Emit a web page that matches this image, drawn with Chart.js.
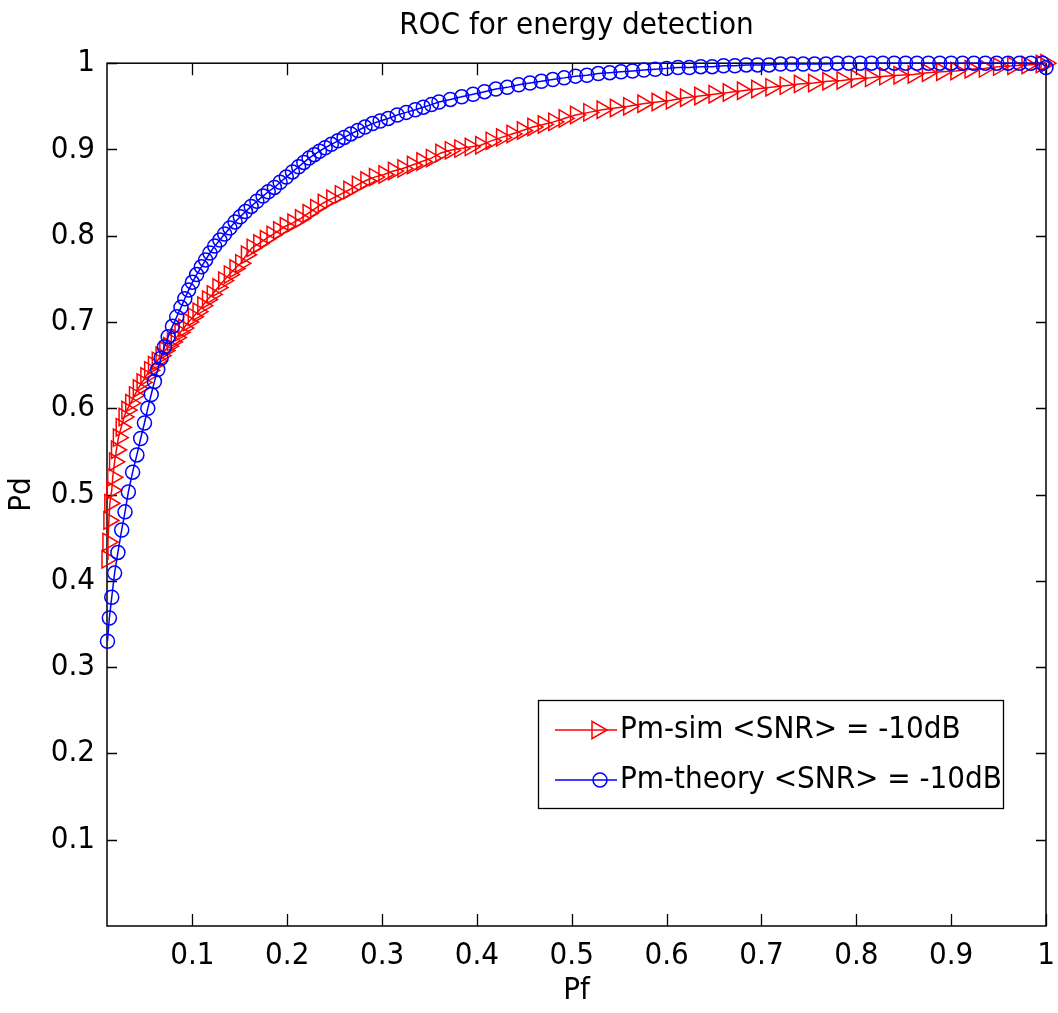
<!DOCTYPE html>
<html>
<head>
<meta charset="utf-8">
<script src="https://cdn.jsdelivr.net/npm/chart.js@4.4.1/dist/chart.umd.min.js"></script>
<style>
    html, body { margin: 0; padding: 0; background: #ffffff; }
    #wrap { width: 1058px; height: 1013px; position: relative; }
</style>
</head>
<body>
<div id="wrap"><canvas id="rocChart" width="1058" height="1013"></canvas></div>
<script>
// ---- data ----
const simPf = [
    0.010, 0.011, 0.012, 0.013, 0.015, 0.016, 0.018, 0.020, 0.022, 0.025,
    0.028, 0.031, 0.035, 0.039, 0.043, 0.047, 0.051, 0.055, 0.059, 0.063,
    0.067, 0.071, 0.075, 0.079, 0.083, 0.087, 0.091, 0.096, 0.101, 0.106,
    0.111, 0.116, 0.121, 0.127, 0.133, 0.139, 0.145, 0.151, 0.157, 0.163,
    0.170, 0.177, 0.184, 0.191, 0.198, 0.206, 0.214, 0.222, 0.230, 0.238,
    0.247, 0.256, 0.265, 0.274, 0.283, 0.292, 0.302, 0.312, 0.322, 0.332,
    0.342, 0.352, 0.362, 0.372, 0.382, 0.393, 0.404, 0.415, 0.426, 0.437,
    0.448, 0.459, 0.470, 0.481, 0.492, 0.504, 0.518, 0.532, 0.546, 0.560,
    0.575, 0.590, 0.605, 0.620, 0.635, 0.650, 0.665, 0.680, 0.695, 0.710,
    0.725, 0.740, 0.755, 0.770, 0.785, 0.800, 0.815, 0.830, 0.845, 0.860,
    0.875, 0.890, 0.905, 0.920, 0.935, 0.950, 0.965, 0.980, 0.995, 1.000
];
const simPd = [
    0.425, 0.445, 0.470, 0.490, 0.505, 0.520, 0.538, 0.552, 0.566, 0.578,
    0.590, 0.598, 0.606, 0.615, 0.623, 0.630, 0.637, 0.644, 0.650, 0.655,
    0.661, 0.667, 0.672, 0.677, 0.682, 0.688, 0.693, 0.700, 0.706, 0.712,
    0.719, 0.726, 0.732, 0.740, 0.748, 0.755, 0.762, 0.768, 0.778, 0.786,
    0.791, 0.796, 0.801, 0.806, 0.811, 0.815, 0.820, 0.826, 0.832, 0.838,
    0.843, 0.848, 0.853, 0.859, 0.864, 0.868, 0.871, 0.875, 0.878, 0.882,
    0.886, 0.890, 0.896, 0.899, 0.901, 0.903, 0.905, 0.910, 0.914, 0.918,
    0.922, 0.926, 0.929, 0.932, 0.936, 0.940, 0.943, 0.946, 0.948, 0.950,
    0.953, 0.955, 0.957, 0.960, 0.962, 0.964, 0.966, 0.968, 0.970, 0.972,
    0.974, 0.976, 0.977, 0.979, 0.980, 0.982, 0.983, 0.985, 0.986, 0.987,
    0.989, 0.990, 0.991, 0.993, 0.994, 0.996, 0.997, 0.998, 0.999, 1.000
];

const theoryPf = [
    0.0105, 0.0125, 0.0150, 0.0180, 0.0215, 0.0255, 0.0290, 0.0325, 0.0370, 0.0415,
    0.0455, 0.0495, 0.0530, 0.0566, 0.0600, 0.0635, 0.0670, 0.0705, 0.0745, 0.0790,
    0.0835, 0.0880, 0.0920, 0.0960, 0.1000, 0.1045, 0.1095, 0.1140, 0.1185, 0.1235,
    0.1290, 0.1340, 0.1395, 0.1450, 0.1505, 0.1560, 0.1620, 0.1680, 0.1745, 0.1800,
    0.1865, 0.1925, 0.1990, 0.2055, 0.2120, 0.2175, 0.2230, 0.2285, 0.2340, 0.2400,
    0.2465, 0.2535, 0.2600, 0.2670, 0.2745, 0.2820, 0.2900, 0.2980, 0.3065, 0.3160,
    0.3255, 0.3350, 0.3435, 0.3520, 0.3600, 0.372, 0.384, 0.396, 0.408, 0.420,
    0.432, 0.444, 0.456, 0.468, 0.480, 0.492, 0.504, 0.516, 0.528, 0.540,
    0.552, 0.564, 0.576, 0.588, 0.600, 0.612, 0.624, 0.636, 0.648, 0.660,
    0.672, 0.684, 0.696, 0.708, 0.720, 0.732, 0.744, 0.756, 0.768, 0.780,
    0.792, 0.804, 0.816, 0.828, 0.840, 0.852, 0.864, 0.876, 0.888, 0.900,
    0.912, 0.924, 0.936, 0.948, 0.960, 0.972, 0.984, 0.996, 1.000
];
const theoryPd = [
    0.330, 0.357, 0.381, 0.409, 0.433, 0.459, 0.480, 0.503, 0.526, 0.546,
    0.565, 0.583, 0.600, 0.616, 0.631, 0.645, 0.658, 0.671, 0.683, 0.695,
    0.706, 0.717, 0.727, 0.737, 0.746, 0.755, 0.764, 0.772, 0.780, 0.788,
    0.795, 0.802, 0.809, 0.816, 0.822, 0.828, 0.834, 0.840, 0.846, 0.851,
    0.856, 0.862, 0.868, 0.874, 0.880, 0.885, 0.890, 0.894, 0.898, 0.902,
    0.906, 0.910, 0.914, 0.918, 0.922, 0.926, 0.930, 0.933, 0.936, 0.940,
    0.943, 0.946, 0.949, 0.952, 0.955, 0.958, 0.961, 0.964, 0.967, 0.970,
    0.972, 0.975, 0.977, 0.979, 0.981, 0.983, 0.985, 0.986, 0.988, 0.989,
    0.990, 0.991, 0.992, 0.993, 0.994, 0.995, 0.995, 0.996, 0.996, 0.997,
    0.997, 0.998, 0.998, 0.998, 0.999, 0.999, 0.999, 0.999, 0.999, 1.000,
    1.000, 1.000, 1.000, 1.000, 1.000, 1.000, 1.000, 1.000, 1.000, 1.000,
    1.000, 1.000, 1.000, 1.000, 1.000, 1.000, 1.000, 1.000, 0.995
];

const seriesLabels = ['Pm-sim <SNR> = -10dB', 'Pm-theory <SNR> = -10dB'];

const xTicks = [0.1, 0.2, 0.3, 0.4, 0.5, 0.6, 0.7, 0.8, 0.9, 1];
const xTickLabels = ['0.1', '0.2', '0.3', '0.4', '0.5', '0.6', '0.7', '0.8', '0.9', '1'];
const yTicks = [0.1, 0.2, 0.3, 0.4, 0.5, 0.6, 0.7, 0.8, 0.9, 1];
const yTickLabels = ['0.1', '0.2', '0.3', '0.4', '0.5', '0.6', '0.7', '0.8', '0.9', '1'];

const FONT = "'Liberation Sans Narrow', 'DejaVu Sans Condensed', 'Liberation Sans', Arial, sans-serif";
const FONT_SIZE = 31;

Chart.defaults.font.family = FONT;
Chart.defaults.color = '#000000';

// small marker helper, used for the legend samples
function drawMarker(ctx, style, x, y, r, color) {
    ctx.save();
    ctx.strokeStyle = color;
    ctx.lineWidth = 1.5;
    ctx.beginPath();
    if (style === 'triangle') {
        // right pointing triangle, same geometry as chart.js 'triangle' rotated 90deg
        ctx.moveTo(x + r, y);
        ctx.lineTo(x - r / 2, y + r * 0.866);
        ctx.lineTo(x - r / 2, y - r * 0.866);
        ctx.closePath();
    } else {
        ctx.arc(x, y, r, 0, Math.PI * 2);
    }
    ctx.stroke();
    ctx.restore();
}

// matlab style box with inward ticks on all four sides
const axesBox = {
    id: 'axesBox',
    beforeDatasetsDraw(chart) {
        const { ctx, chartArea: a, scales } = chart;
        ctx.save();
        ctx.strokeStyle = '#000000';
        ctx.lineWidth = 1.5;
        ctx.strokeRect(a.left, a.top, a.right - a.left, a.bottom - a.top);
        ctx.lineWidth = 1.3;
        ctx.beginPath();
        xTicks.forEach(v => {
            const px = Math.round(scales.x.getPixelForValue(v)) + 0.5;
            ctx.moveTo(px, a.bottom); ctx.lineTo(px, a.bottom - 12);
            ctx.moveTo(px, a.top); ctx.lineTo(px, a.top + 12);
        });
        yTicks.forEach(v => {
            const py = Math.round(scales.y.getPixelForValue(v)) + 0.5;
            ctx.moveTo(a.left, py); ctx.lineTo(a.left + 10, py);
            ctx.moveTo(a.right, py); ctx.lineTo(a.right - 10, py);
        });
        ctx.stroke();
        ctx.restore();
    }
};

// legend box in lower right of the axes
const boxLegend = {
    id: 'boxLegend',
    afterDraw(chart) {
        const { ctx } = chart;
        const left = 538, top = 700, w = 465, h = 108;
        ctx.save();
        ctx.fillStyle = '#ffffff';
        ctx.fillRect(left, top, w, h);
        ctx.strokeStyle = '#000000';
        ctx.lineWidth = 1.3;
        ctx.strokeRect(left + 0.5, top + 0.5, w, h);

        const rows = [
            { label: seriesLabels[0], color: 'red', style: 'triangle', r: 10, y: 730 },
            { label: seriesLabels[1], color: 'blue', style: 'circle', r: 7, y: 780 }
        ];
        rows.forEach(row => {
            ctx.strokeStyle = row.color;
            ctx.lineWidth = 1.5;
            ctx.beginPath();
            ctx.moveTo(555, row.y);
            ctx.lineTo(617, row.y);
            ctx.stroke();
            drawMarker(ctx, row.style, row.style === 'triangle' ? 597 : 600, row.y, row.r, row.color);
            ctx.fillStyle = '#000000';
            ctx.font = FONT_SIZE + 'px ' + FONT;
            ctx.textBaseline = 'middle';
            ctx.textAlign = 'left';
            ctx.fillText(row.label, 620, row.y);
        });
        ctx.restore();
    }
};

const simData = simPf.map((x, i) => ({ x: x, y: simPd[i] }));
const theoryData = theoryPf.map((x, i) => ({ x: x, y: theoryPd[i] }));

const rocChart = new Chart(document.getElementById('rocChart'), {
    type: 'scatter',
    data: {
        datasets: [
            {
                label: seriesLabels[0],
                data: simData,
                showLine: true,
                borderColor: 'red',
                borderWidth: 1.5,
                backgroundColor: 'rgba(0,0,0,0)',
                pointStyle: 'triangle',
                pointRotation: 90,
                pointRadius: 10,
                pointBorderWidth: 1.5,
                pointBorderColor: 'red',
                pointBackgroundColor: 'rgba(0,0,0,0)',
                clip: false,
                order: 1
            },
            {
                label: seriesLabels[1],
                data: theoryData,
                showLine: true,
                borderColor: 'blue',
                borderWidth: 1.5,
                backgroundColor: 'rgba(0,0,0,0)',
                pointStyle: 'circle',
                pointRadius: 7,
                pointBorderWidth: 1.5,
                pointBorderColor: 'blue',
                pointBackgroundColor: 'rgba(0,0,0,0)',
                clip: false,
                order: 0
            }
        ]
    },
    options: {
        responsive: false,
        animation: false,
        devicePixelRatio: 1,
        layout: { padding: { left: 0, right: 12, top: 0, bottom: 0 } },
        plugins: {
            legend: { display: false },
            tooltip: { enabled: false },
            title: {
                display: true,
                fullSize: false,
                text: 'ROC for energy detection',
                color: '#000000',
                font: { size: FONT_SIZE, weight: 'normal' },
                padding: { top: 7, bottom: 19 }
            }
        },
        scales: {
            x: {
                type: 'linear',
                min: 0.01,
                max: 1,
                afterBuildTicks: s => { s.ticks = xTicks.map(v => ({ value: v })); },
                afterFit: s => { s.height = 87; s.paddingLeft = 0; s.paddingRight = 0; },
                ticks: {
                    autoSkip: false,
                    maxRotation: 0,
                    padding: 11,
                    color: '#000000',
                    font: { size: FONT_SIZE },
                    callback: (v, i) => xTickLabels[i]
                },
                grid: { display: false, drawTicks: false },
                border: { display: false },
                title: {
                    display: true,
                    text: 'Pf',
                    color: '#000000',
                    font: { size: FONT_SIZE },
                    padding: { top: 0, bottom: 3 }
                }
            },
            y: {
                type: 'linear',
                min: 0,
                max: 1,
                afterBuildTicks: s => { s.ticks = yTicks.map(v => ({ value: v })); },
                afterFit: s => { s.width = 107; s.paddingTop = 0; s.paddingBottom = 0; },
                ticks: {
                    autoSkip: false,
                    padding: 12,
                    color: '#000000',
                    font: { size: FONT_SIZE },
                    callback: (v, i) => yTickLabels[i]
                },
                grid: { display: false, drawTicks: false },
                border: { display: false },
                title: {
                    display: true,
                    text: 'Pd',
                    color: '#000000',
                    font: { size: FONT_SIZE },
                    padding: { top: 3, bottom: 0 }
                }
            }
        }
    },
    plugins: [axesBox, boxLegend]
});
</script>
</body>
</html>
